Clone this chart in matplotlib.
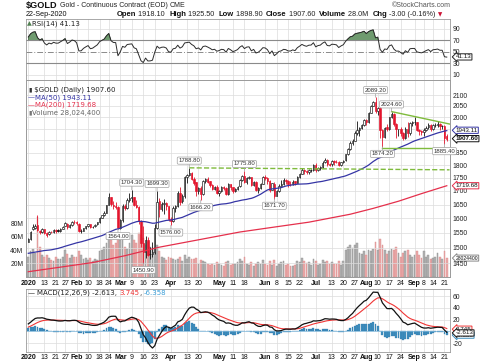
import numpy as np
import pandas as pd
import matplotlib
matplotlib.use("Agg")
import matplotlib.pyplot as plt

W, H, DPI = 480, 363, 100

# ---------------- data ----------------
start_date, end_date = "2020-01-02", "2020-09-22"
holidays = ["2020-01-20", "2020-02-17", "2020-04-10", "2020-05-25", "2020-07-03", "2020-09-07"]

# Q4-2019 closes (only used to seed the indicators, not drawn)
warmup_close = [
    1478, 1507, 1513, 1513, 1503, 1504, 1513, 1500, 1488, 1493, 1482, 1494, 1492, 1490, 1488, 1487,
    1495, 1504, 1505, 1495, 1488, 1496, 1513,
    1511, 1508, 1484, 1490, 1466, 1457, 1456, 1454, 1463, 1469, 1468, 1470, 1472, 1472, 1464, 1463,
    1456, 1460, 1454, 1465,
    1464, 1483, 1476, 1480, 1460, 1462, 1468, 1475, 1470, 1476, 1481, 1480, 1479, 1483, 1481, 1488,
    1505, 1514, 1514, 1518, 1523]

open_ = [
    # Jan
    1519, 1528, 1562, 1568, 1578, 1557, 1553, 1562, 1549, 1545, 1554, 1552, 1560, 1559, 1557, 1565, 1574, 1582, 1570, 1577, 1589,
    # Feb
    1589, 1582, 1556, 1556, 1567, 1574, 1579, 1569, 1572, 1579, 1586, 1603, 1611, 1620, 1650, 1676, 1650, 1643, 1642,
    # Mar
    1567, 1595, 1644, 1638, 1668, 1672, 1676, 1649, 1642, 1590, 1516, 1487, 1526, 1478, 1479, 1485, 1568, 1661, 1634, 1651, 1654, 1643,
    # Apr
    1597, 1591, 1638, 1646, 1694, 1661, 1682, 1753, 1761, 1769, 1746, 1732, 1699, 1711, 1689, 1738, 1746, 1736, 1723, 1708, 1713,
    # May
    1694, 1701, 1714, 1711, 1689, 1726, 1714, 1698, 1706, 1717, 1741, 1756, 1734, 1750, 1753, 1722, 1735, 1704, 1711, 1727,
    # Jun
    1752, 1750, 1738, 1705, 1728, 1683, 1699, 1720, 1726, 1740, 1737, 1727, 1727, 1736, 1731, 1753, 1766, 1782, 1775, 1772, 1780, 1782,
    # Jul
    1800, 1780, 1790, 1794, 1810, 1821, 1804, 1802, 1814, 1813, 1812, 1800, 1810, 1818, 1843, 1866, 1890, 1898, 1931, 1945, 1953, 1966,
    # Aug
    1986, 1977, 2019, 2049, 2069, 2028, 2040, 1946, 1915, 1955, 1950, 1999, 2013, 1970, 1947, 1947, 1930, 1912, 1950, 1930, 1975,
    # Sep
    1979, 1979, 1945, 1938, 1934, 1943, 1955, 1964, 1948, 1964, 1967, 1971, 1962, 1962, 1918.1]

high = [
    1531, 1556, 1582, 1579, 1611, 1561, 1566, 1563, 1552, 1557, 1558, 1562, 1565, 1562, 1567, 1575, 1588, 1583, 1580, 1592, 1594,
    1592, 1584, 1562, 1568, 1575, 1582, 1581, 1574, 1581, 1588, 1605, 1614, 1625, 1650, 1691, 1677, 1662, 1660, 1645,
    1599, 1651, 1652, 1672, 1692, 1704.3, 1677, 1666, 1645, 1594, 1575, 1540, 1536, 1503, 1519, 1580, 1699.3, 1673, 1658, 1670, 1660, 1645,
    1604, 1644, 1650, 1698, 1714, 1687, 1755, 1765, 1788.8, 1772, 1753, 1735, 1713, 1717, 1740, 1749, 1752, 1738, 1725, 1718, 1722,
    1705, 1717, 1718, 1714, 1729, 1727, 1716, 1712, 1720, 1744, 1760, 1775.8, 1752, 1757, 1754, 1738, 1737, 1714, 1730, 1755,
    1760, 1752, 1742, 1730, 1732, 1704, 1725, 1740, 1751, 1747, 1740, 1738, 1740, 1739, 1757, 1769, 1789, 1783, 1780, 1784, 1785, 1802,
    1807, 1793, 1796, 1815, 1829, 1822, 1807, 1820, 1818, 1821, 1815, 1812, 1820, 1845, 1870, 1898, 1907, 1941, 1981, 1957, 1970, 1994,
    1991, 2023, 2056, 2072, 2089.2, 2045, 2050, 1950, 1958, 1968, 2002, 2024.6, 2018, 1975, 1950, 1955, 1936, 1955, 1977, 1978, 1982,
    2001, 1980, 1948, 1945, 1951, 1960, 1975, 1968, 1968, 1975, 1982, 1975, 1966, 1966, 1925.5]

low = [
    1518, 1527, 1560, 1565, 1556, 1547, 1550, 1546, 1536, 1543, 1548, 1549, 1550, 1552, 1554, 1562, 1572, 1565, 1567, 1573, 1582,
    1578, 1554, 1548, 1555, 1564, 1571, 1568, 1566, 1570, 1577, 1585, 1600, 1608, 1618, 1648, 1645, 1635, 1635, 1564,
    1565, 1587, 1630, 1634, 1660, 1658, 1645, 1636, 1580, 1504, 1450.9, 1466, 1472, 1463, 1469, 1480, 1565, 1604, 1625, 1616, 1630, 1592,
    1576, 1589, 1624, 1640, 1650, 1655, 1675, 1731, 1755, 1740, 1723, 1680, 1690, 1666.2, 1686, 1730, 1730, 1715, 1704, 1705, 1690,
    1681, 1695, 1703, 1685, 1686, 1705, 1693, 1696, 1702, 1713, 1737, 1731, 1728, 1744, 1717, 1720, 1700, 1694, 1708, 1725,
    1741, 1728, 1697, 1703, 1671.7, 1680, 1696, 1717, 1722, 1728, 1715, 1717, 1722, 1722, 1730, 1750, 1764, 1766, 1763, 1765, 1771, 1778,
    1771, 1776, 1782, 1790, 1806, 1798, 1795, 1798, 1800, 1808, 1795, 1797, 1808, 1815, 1840, 1860, 1882, 1896, 1925, 1920, 1950, 1960,
    1966, 1974, 2017, 2048, 2018, 2010, 1911, 1874.2, 1910, 1938, 1945, 1997, 1962, 1912, 1920, 1919, 1900, 1907, 1914, 1922, 1962,
    1966, 1938, 1925, 1921, 1920, 1940, 1950, 1940, 1946, 1955, 1957, 1945, 1950, 1885.4, 1898.9]

close = [
    1528.1, 1552.4, 1568.8, 1574.3, 1560.2, 1554.0, 1562.3, 1550.2, 1544.3, 1554.3, 1552.0, 1560.3, 1558.0, 1558.0, 1565.0, 1571.9,
    1582.4, 1569.8, 1577.4, 1589.2, 1587.9,
    1582.4, 1555.9, 1556.6, 1566.7, 1573.4, 1579.5, 1569.2, 1571.8, 1578.8, 1586.4, 1603.2, 1611.1, 1620.5, 1648.8, 1676.6, 1650.2,
    1643.1, 1642.5, 1566.7,
    1594.8, 1644.4, 1637.6, 1668.0, 1672.4, 1675.7, 1649.3, 1642.3, 1590.3, 1516.7, 1486.5, 1525.8, 1477.9, 1478.6, 1484.6, 1567.6,
    1660.8, 1633.7, 1651.3, 1654.1, 1643.0, 1596.6,
    1591.4, 1637.7, 1645.7, 1693.9, 1660.9, 1682.1, 1752.8, 1761.2, 1768.8, 1746.1, 1731.7, 1698.8, 1711.2, 1688.5, 1738.2, 1745.6,
    1735.6, 1723.0, 1707.6, 1713.3, 1694.2,
    1700.9, 1713.9, 1711.2, 1688.5, 1725.8, 1713.9, 1698.0, 1705.7, 1716.6, 1740.9, 1756.3, 1734.4, 1749.9, 1752.5, 1721.9, 1735.0,
    1704.4, 1710.4, 1727.4, 1751.7,
    1750.3, 1737.6, 1705.3, 1728.2, 1683.0, 1698.7, 1720.4, 1725.6, 1739.8, 1737.3, 1727.4, 1727.0, 1735.6, 1730.6, 1753.0, 1766.3,
    1782.0, 1775.4, 1771.6, 1780.3, 1781.6, 1800.5,
    1779.9, 1790.0, 1793.5, 1809.9, 1820.6, 1803.8, 1801.9, 1814.1, 1813.4, 1811.5, 1800.3, 1810.0, 1817.4, 1843.0, 1865.5, 1890.0,
    1897.5, 1931.0, 1944.6, 1953.4, 1965.6, 1985.9,
    1976.7, 2019.1, 2049.3, 2069.4, 2028.0, 2039.7, 1946.3, 1914.8, 1954.6, 1949.9, 1999.0, 2013.1, 1970.3, 1946.9, 1947.0, 1929.5,
    1911.6, 1949.6, 1929.9, 1974.9, 1978.6,
    1978.9, 1944.7, 1938.2, 1934.3, 1943.2, 1954.8, 1964.2, 1947.9, 1964.3, 1966.6, 1970.5, 1962.1, 1962.1, 1910.6, 1907.6]

volume_m = [
    30, 38, 42, 35, 89, 45, 33, 30, 32, 28, 25, 24, 30, 26, 27, 29, 40, 34, 28, 33, 30,
    30, 38, 33, 26, 28, 25, 28, 24, 26, 25, 38, 40, 45, 50, 58, 55, 48, 50, 62,
    55, 60, 45, 42, 50, 62, 55, 50, 65, 62, 58, 48, 52, 45, 40, 44, 48, 38, 30, 28, 25, 30,
    28, 27, 25, 26, 30, 24, 32, 26, 30, 27, 26, 28, 20, 25, 24, 22, 20, 18, 20, 18, 22,
    20, 18, 17, 22, 24, 18, 20, 19, 22, 26, 24, 30, 20, 18, 22, 16, 20, 22, 20, 25,
    20, 18, 23, 18, 25, 17, 20, 22, 24, 18, 20, 16, 17, 18, 24, 22, 28, 23, 21, 22, 18, 26,
    24, 18, 20, 25, 22, 24, 20, 22, 20, 19, 23, 18, 24, 40, 45, 48, 43, 48, 50, 35, 34, 38,
    32, 40, 38, 42, 52, 40, 56, 48, 40, 34, 38, 42, 40, 45, 35, 30, 35, 38, 40, 32, 30,
    33, 38, 32, 28, 38, 30, 32, 26, 28, 30, 35, 30, 27, 38, 28.0244]

ma200_dates = ["2020-01-02", "2020-02-12", "2020-03-04", "2020-03-25", "2020-04-21", "2020-05-14",
               "2020-06-05", "2020-06-26", "2020-07-23", "2020-08-06", "2020-08-21", "2020-09-04", "2020-09-22"]
ma200_vals = [1423, 1452, 1474, 1502, 1528, 1553, 1570, 1587, 1615, 1636, 1662, 1690, 1719.68]

last_ma50, last_ma200, last_volume = 1943.11, 1719.68, 28024400
last_rsi = 41.13
last_macd, last_signal, last_hist = -2.613, 3.745, -6.358

peak_dates = ["2020-03-09", "2020-02-28", "2020-03-24", "2020-03-16", "2020-04-01", "2020-04-14", "2020-04-21",
              "2020-05-18", "2020-06-05", "2020-08-07", "2020-08-18", "2020-08-12", "2020-09-21"]
peak_vals = [1704.30, 1564.00, 1699.30, 1450.90, 1576.00, 1788.80, 1666.20, 1775.80, 1671.70, 2089.20, 2024.60,
             1874.20, 1885.40]
peak_side = ["above", "below", "above", "below", "below", "above", "below", "above", "below", "above", "above",
             "below", "below"]

upper_trend = [("2020-08-18", 2024.6), ("2020-09-22", 1970.0)]
lower_trend = [("2020-08-12", 1870.0), ("2020-09-22", 1870.0)]
dashed_level = [("2020-04-14", 1788.8), ("2020-09-22", 1781.0)]

tick_dates = ["2020-01-02", "2020-01-13", "2020-01-21", "2020-01-27", "2020-02-03", "2020-02-10", "2020-02-18",
              "2020-02-24", "2020-03-02", "2020-03-09", "2020-03-16", "2020-03-23", "2020-04-01", "2020-04-13",
              "2020-04-20", "2020-05-01", "2020-05-11", "2020-05-18", "2020-06-01", "2020-06-08", "2020-06-15",
              "2020-06-22", "2020-07-01", "2020-07-13", "2020-07-20", "2020-07-27", "2020-08-03", "2020-08-10",
              "2020-08-17", "2020-08-24", "2020-09-01", "2020-09-08", "2020-09-14", "2020-09-21"]
tick_labels = ["2020", "13", "21", "27", "Feb", "10", "18", "24", "Mar", "9", "16", "23", "Apr", "13", "20",
               "May", "11", "18", "Jun", "8", "15", "22", "Jul", "13", "20", "27", "Aug", "10", "17", "24",
               "Sep", "8", "14", "21"]
bold_ticks = {"2020", "Feb", "Mar", "Apr", "May", "Jun", "Jul", "Aug", "Sep"}

price_ticks = [1450, 1500, 1550, 1600, 1650, 1700, 1750, 1800, 1850, 1900, 1950, 2000, 2050, 2100]
hidden_price_ticks = {1900, 1950}
vol_ticks = [20, 40, 60, 80]
rsi_ticks = [10, 30, 50, 70, 90]
macd_ticks = [-20, 20, 40, 60]

# ---------------- derived ----------------
dates = pd.bdate_range(start_date, end_date)
dates = dates[~dates.isin(pd.to_datetime(holidays))]
n = len(dates)
assert n == len(close) == len(open_) == len(high) == len(low) == len(volume_m)
pos = {d.strftime("%Y-%m-%d"): i for i, d in enumerate(dates)}
x = np.arange(n)

o = np.array(open_, float); h = np.array(high, float); l = np.array(low, float); c = np.array(close, float)
vol = np.array(volume_m, float)

allc = pd.Series(warmup_close + close, dtype=float)
ma50 = allc.rolling(50).mean().values[-n:]
d = allc.diff()
ag = d.clip(lower=0).ewm(alpha=1 / 14, adjust=False).mean()
al = (-d.clip(upper=0)).ewm(alpha=1 / 14, adjust=False).mean()
rsi = (100 - 100 / (1 + ag / al)).values[-n:]
ema12 = allc.ewm(span=12, adjust=False).mean()
ema26 = allc.ewm(span=26, adjust=False).mean()
macd_s = ema12 - ema26
sig_s = macd_s.ewm(span=9, adjust=False).mean()
macd = macd_s.values[-n:]; sig = sig_s.values[-n:]; hist = macd - sig

prev = np.r_[warmup_close[-1], c[:-1]]
up = c >= prev

# ---------------- figure ----------------
fig = plt.figure(figsize=(W / DPI, H / DPI), dpi=DPI)
fig.patch.set_facecolor("white")


def px_axes(x0, y0, x1, y1):
    return fig.add_axes([x0 / W, 1 - y1 / H, (x1 - x0) / W, (y1 - y0) / H])


XL, XR = 26, 450
ax_rsi = px_axes(XL, 19, XR, 80)
ax_vol = px_axes(XL, 80, XR, 277)
ax_p = ax_vol.twinx()
ax_macd = px_axes(XL, 289, XR, 352)

XLIM = (-1.0, n + 0.4)
tick_pos = [pos[t] for t in tick_dates]
GRID = "#dcdcdc"
SPINE = "#9a9a9a"
TFONT = dict(family="Liberation Sans", size=4.9, color="#222222")

for ax in (ax_rsi, ax_vol, ax_p, ax_macd):
    ax.set_xlim(*XLIM)
    for s in ax.spines.values():
        s.set_color(SPINE)
        s.set_linewidth(0.6)
    ax.tick_params(length=0, pad=2)

for ax in (ax_rsi, ax_vol, ax_macd):
    ax.set_xticks(tick_pos)
    ax.grid(axis="x", color=GRID, lw=0.5)
    ax.set_axisbelow(True)


def style_xlabels(ax):
    ax.set_xticklabels(tick_labels)
    for lab in ax.get_xticklabels():
        lab.set_fontfamily("Liberation Sans")
        lab.set_fontsize(5.0)
        lab.set_color("#111111")
        if lab.get_text() in bold_ticks:
            lab.set_fontweight("bold")


ax_rsi.set_xticklabels([])
style_xlabels(ax_vol)
style_xlabels(ax_macd)
ax_vol.tick_params(axis="x", pad=2.2)
ax_macd.tick_params(axis="x", pad=1.5)

# ---- RSI ----
ax_rsi.set_ylim(1, 107)
ax_rsi.yaxis.tick_right()
ax_rsi.set_yticks(rsi_ticks)
ax_rsi.set_yticklabels([str(v) for v in rsi_ticks], **TFONT)
for v in (10, 90):
    ax_rsi.axhline(v, color=GRID, lw=0.5, zorder=0)
ax_rsi.axhline(70, color="#8a8a8a", lw=0.8)
ax_rsi.axhline(30, color="#8a8a8a", lw=0.8)
ax_rsi.axhline(50, color="#8a8a8a", lw=0.7, ls=(0, (6, 2, 1, 2)))
ax_rsi.fill_between(x, rsi, 70, where=rsi >= 70, interpolate=True, color="#6f9b6f", edgecolor="#2d4d2d", lw=0.4)
ax_rsi.plot(x, rsi, color="#2b2b2b", lw=0.7)

# ---- volume ----
vface = np.where(up, "#b3b3b3", "#ecaaaa")
vedge = np.where(up, "#8e8e8e", "#d88c8c")
ax_vol.bar(x, vol, width=0.78, color=vface, edgecolor=vedge, lw=0.3, zorder=1)
ax_vol.set_ylim(0, 292)
ax_vol.set_yticks(vol_ticks)
ax_vol.set_yticklabels([f"{v}M" for v in vol_ticks], **TFONT)

# ---- price ----
ax_p.set_yscale("log")
ax_p.set_ylim(1406.5, 2170.6)
ax_p.set_yticks(price_ticks)
ax_p.set_yticklabels(["" if v in hidden_price_ticks else str(v) for v in price_ticks], **TFONT)
ax_p.yaxis.set_minor_locator(matplotlib.ticker.NullLocator())
ax_p.grid(axis="y", which="major", color=GRID, lw=0.5)

ccol = np.where(up, "#111111", "#e3152d")
face = np.where(c > o, "white", ccol)
ax_p.vlines(x, l, h, colors=ccol, lw=0.6, zorder=3)
body = np.maximum(np.abs(c - o), 0.8)
ax_p.bar(x, body, bottom=np.minimum(o, c), width=0.62, color=face, edgecolor=ccol, lw=0.45, zorder=4)

ax_p.plot(x, ma50, color="#3535a5", lw=0.9, zorder=5)
ax_p.plot([pos[d_] for d_ in ma200_dates], ma200_vals, color="#e5304c", lw=0.9, zorder=5)

GREEN = "#7fbb3c"
for seg, ls in ((upper_trend, "-"), (lower_trend, "-"), (dashed_level, "--")):
    xs = [pos[a] for a, _ in seg]
    xs[-1] = xs[-1] + 1.2
    ax_p.plot(xs, [b for _, b in seg], color=GREEN, lw=1.0, ls=ls, zorder=6)

for dstr, val, side in zip(peak_dates, peak_vals, peak_side):
    xi = pos[dstr]
    dy = 5.2 if side == "above" else -5.2
    ax_p.annotate(f"{val:.2f}", xy=(xi, val), xytext=(0, dy), textcoords="offset points",
                  ha="center", va="center", fontsize=4.3, family="Liberation Sans", color="#333333",
                  bbox=dict(boxstyle="round,pad=0.18,rounding_size=0.2", fc="white", ec="#a0a0a0", lw=0.5),
                  arrowprops=dict(arrowstyle="-", color="#a0a0a0", lw=0.5, shrinkA=0, shrinkB=0),
                  zorder=8, annotation_clip=False)


# right-edge value tags
def tag(ax, y, text, ec, bold=False, fc="white", z=10, size=4.5):
    ax.annotate(text, xy=(1.0, y), xycoords=("axes fraction", "data"), xytext=(4.0, 0),
                textcoords="offset points", ha="left", va="center", fontsize=size,
                family="Liberation Sans", fontweight="bold" if bold else "normal", color="#111111",
                bbox=dict(boxstyle="larrow,pad=0.1", fc=fc, ec=ec, lw=0.7),
                annotation_clip=False, zorder=z)


tag(ax_rsi, last_rsi, f"{last_rsi:.2f}", "#222222")
tag(ax_p, last_ma50, f"{last_ma50:.2f}", "#3535a5")
tag(ax_p, c[-1], f"{c[-1]:.2f}", "#111111", bold=True)
tag(ax_p, last_ma200, f"{last_ma200:.2f}", "#e5304c")
tag(ax_vol, vol[-1], f"{last_volume}", "#888888", size=3.6)
tag(ax_macd, last_hist, f"{last_hist:.3f}", "#3d8fc0", z=9)
tag(ax_macd, last_signal, f"{last_signal:.3f}", "#ee3333", z=10)
tag(ax_macd, last_macd, f"{last_macd:.3f}", "#111111", z=11)

# ---- MACD ----
ax_macd.set_ylim(-35, 72)
ax_macd.yaxis.tick_right()
ax_macd.set_yticks(macd_ticks)
ax_macd.set_yticklabels([str(v) for v in macd_ticks], **TFONT)
for v in (-20, 20, 40, 60):
    ax_macd.axhline(v, color=GRID, lw=0.5, zorder=0)
ax_macd.bar(x, hist, width=0.85, color="#3f8fc0", edgecolor="#2c74a3", lw=0.2, zorder=2)
ax_macd.axhline(0, color="#7fb7da", lw=0.5, zorder=2)
ax_macd.plot(x, sig, color="#f03535", lw=0.8, zorder=3)
ax_macd.plot(x, macd, color="#111111", lw=0.9, zorder=4)

# ---------------- texts ----------------
renderer = fig.canvas.get_renderer()


def seq(x0, y, parts):
    xx = x0
    for s, kw in parts:
        t = fig.text(xx / W, 1 - y / H, s, ha="left", va="center", **kw)
        xx += t.get_window_extent(renderer).width
    return xx


LS = dict(family="Liberation Sans")
seq(26, 5.5, [("$GOLD", dict(fontsize=6.6, fontweight="bold", color="#111111", **LS)),
              (" Gold - Continuous Contract (EOD) ", dict(fontsize=5.0, color="#222222", **LS)),
              ("CME", dict(fontsize=5.0, color="#222222", **LS))])
fig.text(451 / W, 1 - 5.5 / H, "©StockCharts.com", ha="right", va="center", fontsize=5.0, color="#555555", **LS)
fig.text(26 / W, 1 - 14.5 / H, dates[-1].strftime("%d-%b-%Y"), ha="left", va="center", fontsize=5.2,
         color="#111111", **LS)

chg = c[-1] - c[-2]
pct = chg / c[-2] * 100
B = dict(fontsize=5.5, fontweight="bold", color="#111111", **LS)
N = dict(fontsize=5.2, color="#222222", **LS)
seq(117, 14.5, [("Open", B), (f" {o[-1]:.2f}  ", N), ("High", B), (f" {h[-1]:.2f}  ", N),
                ("Low", B), (f" {l[-1]:.2f}  ", N), ("Close", B), (f" {c[-1]:.2f}  ", N),
                ("Volume", B), (f" {vol[-1]:.1f}M  ", N), ("Chg", B), (f" {chg:.2f} ({pct:.2f}%) ", N),
                ("▼", dict(fontsize=4.0, color="#cc1133"))])

DJ = dict(family="DejaVu Sans", fontsize=5.0)
# RSI legend
seq(27, 24, [("▲", dict(color="#4f7f4f", family="DejaVu Sans", fontsize=4.5)),
             (f"RSI(14) {last_rsi:.2f}", dict(color="#222222", **DJ))])
# main legend
seq(28, 90, [("▮", dict(color="#333333", family="DejaVu Sans", fontsize=4.5)),
             (f" $GOLD (Daily) {c[-1]:.2f}", dict(color="#222222", **DJ))])
seq(28, 97.5, [("—", dict(color="#3535a5", family="DejaVu Sans", fontsize=5.0)),
               (f"MA(50) {last_ma50:.2f}", dict(color="#3535a5", **DJ))])
seq(28, 105, [("—", dict(color="#e5304c", family="DejaVu Sans", fontsize=5.0)),
              (f"MA(200) {last_ma200:.2f}", dict(color="#e5304c", **DJ))])
seq(28, 112.5, [("▮", dict(color="#777777", family="DejaVu Sans", fontsize=4.5)),
                (f"Volume {last_volume:,}", dict(color="#666666", **DJ))])
# MACD legend
seq(28, 293, [("— ", dict(color="#111111", family="DejaVu Sans", fontsize=5.0)),
              (f"MACD(12,26,9) {last_macd:.3f}, ", dict(color="#222222", **DJ)),
              (f"{last_signal:.3f}", dict(color="#ee3333", **DJ)),
              (", ", dict(color="#222222", **DJ)),
              (f"{last_hist:.3f}", dict(color="#3d9fd8", **DJ))])

fig.savefig("out.png", dpi=DPI, facecolor="white")
